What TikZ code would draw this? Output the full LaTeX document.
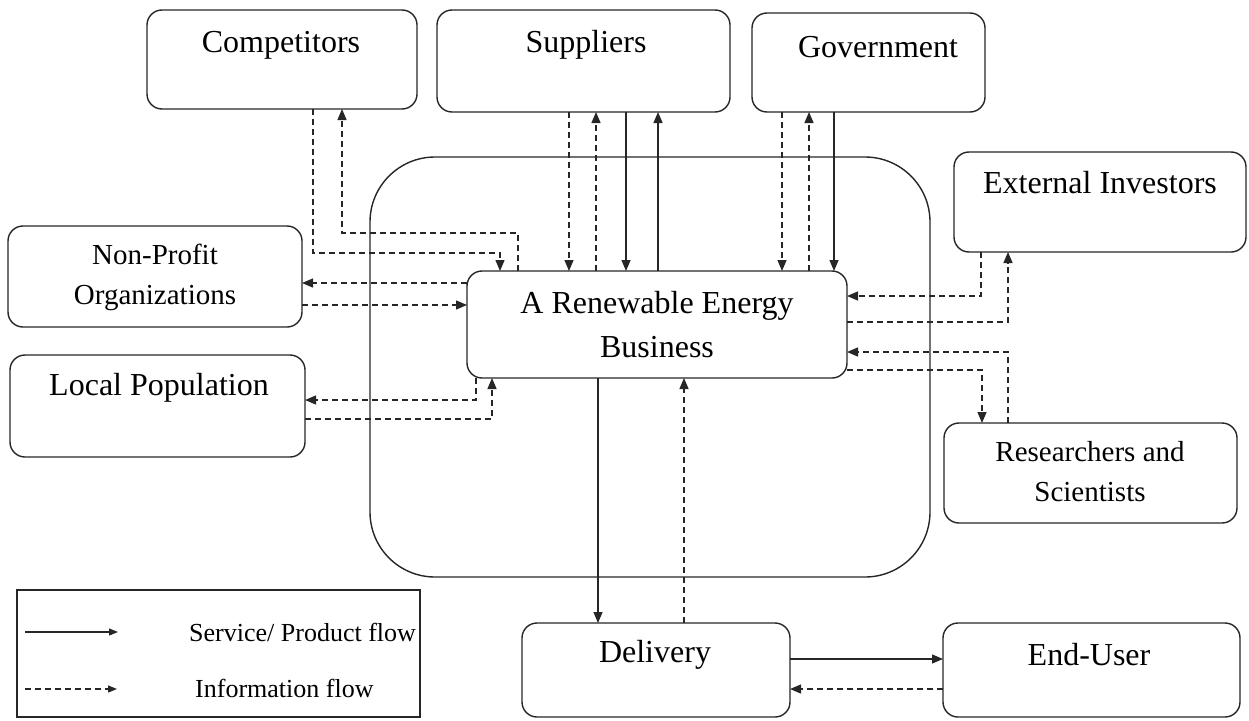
\documentclass[tikz,border=0pt]{standalone}
\usepackage{fontspec}
\setmainfont{Liberation Serif}
\usetikzlibrary{arrows.meta}
\begin{document}
\begin{tikzpicture}[x=1pt,y=-1pt,
  box/.style={draw=black!85, line width=1.4pt, rounded corners=15pt, inner sep=0pt, outer sep=0pt},
  bigtxt/.style={font=\fontsize{32}{44}\selectfont, align=center, inner sep=0pt},
  smalltxt/.style={font=\fontsize{29}{40}\selectfont, align=center, inner sep=0pt},
  legtxt/.style={font=\fontsize{26}{30}\selectfont, inner sep=0pt},
  flow/.style={line width=1.3pt, draw=black!85, -{Triangle[length=11pt,width=9pt]}},
  info/.style={flow, dash pattern=on 6pt off 4pt}]
\useasboundingbox (0,0) rectangle (1249,720);
% core boundary
\node[draw=black!85, line width=1.4pt, rounded corners=65pt, minimum width=560, minimum height=420, inner sep=0pt] (core) at (650,367) {};
% boxes
\node[box, minimum width=270, minimum height=99] (comp) at (282,59.5) {};
\node[bigtxt] (compt) at (281,45) {Competitors};
\node[box, minimum width=293, minimum height=102] (supp) at (583.5,61) {};
\node[bigtxt] (suppt) at (586,45) {Suppliers};
\node[box, minimum width=233, minimum height=99] (gov) at (868.5,62.5) {};
\node[bigtxt] (govt) at (878,47) {Government};
\node[box, minimum width=292, minimum height=100] (ext) at (1100,202) {};
\node[bigtxt] (extt) at (1100,183) {External Investors};
\node[box, minimum width=294, minimum height=101] (np) at (155,276.5) {};
\node[smalltxt] (npt) at (155,277) {Non-Profit\\Organizations};
\node[box, minimum width=295, minimum height=102] (lp) at (157.5,406) {};
\node[bigtxt] (lpt) at (159,388) {Local Population};
\node[box, minimum width=380, minimum height=107] (reb) at (657,324.5) {};
\node[bigtxt] (rebt) at (657,325) {A Renewable Energy\\Business};
\node[box, minimum width=293, minimum height=100] (res) at (1090.5,473) {};
\node[smalltxt] (rest) at (1090,472) {Researchers and\\Scientists};
\node[box, minimum width=268, minimum height=94] (del) at (656,670) {};
\node[bigtxt] (delt) at (655,655) {Delivery};
\node[box, minimum width=297, minimum height=94] (eu) at (1091.5,670) {};
\node[bigtxt] (eut) at (1089,655) {End-User};
% competitors
\draw[info] (313,0 |- comp.south) -- (313,253) -- (500,253) -- (500,0 |- reb.north);
\draw[info] (518,0 |- reb.north) -- (518,233) -- (342,233) -- (342,0 |- comp.south);
% suppliers
\draw[info] (569,0 |- supp.south) -- (569,0 |- reb.north);
\draw[info] (596,0 |- reb.north) -- (596,0 |- supp.south);
\draw[flow] (626,0 |- supp.south) -- (626,0 |- reb.north);
\draw[flow] (658,0 |- reb.north) -- (658,0 |- supp.south);
% government
\draw[info] (782,0 |- gov.south) -- (782,0 |- reb.north);
\draw[info] (809,0 |- reb.north) -- (809,0 |- gov.south);
\draw[flow] (834,0 |- gov.south) -- (834,0 |- reb.north);
% non-profit
\draw[info] (reb.west |- 0,283) -- (np.east |- 0,283);
\draw[info] (np.east |- 0,305) -- (reb.west |- 0,305);
% local population
\draw[info] (476,0 |- reb.south) -- (476,400) -- (lp.east |- 0,400);
\draw[info] (lp.east |- 0,419) -- (492,419) -- (492,0 |- reb.south);
% external investors
\draw[info] (981,0 |- ext.south) -- (981,296) -- (reb.east |- 0,296);
\draw[info] (reb.east |- 0,322) -- (1008,322) -- (1008,0 |- ext.south);
% researchers
\draw[info] (1008,0 |- res.north) -- (1008,352) -- (reb.east |- 0,352);
\draw[info] (reb.east |- 0,370) -- (982,370) -- (982,0 |- res.north);
% delivery
\draw[flow] (598,0 |- reb.south) -- (598,0 |- del.north);
\draw[info] (684,0 |- del.north) -- (684,0 |- reb.south);
\draw[flow] (del.east |- 0,659) -- (eu.west |- 0,659);
\draw[info] (eu.west |- 0,689) -- (del.east |- 0,689);
% legend
\node[draw=black!85, line width=1.4pt, minimum width=403, minimum height=127, inner sep=0pt] (leg) at (218.5,653.5) {};
\coordinate (la1) at (25,632);
\coordinate (lb1) at (118,632);
\coordinate (la2) at (25,689);
\coordinate (lb2) at (117,689);
\draw[flow, -{Triangle[length=9pt,width=7pt]}] (la1) -- (lb1);
\draw[info, -{Triangle[length=9pt,width=7pt]}] (la2) -- (lb2);
\node[legtxt, anchor=west] (lt1) at (189,632) {Service/ Product flow};
\node[legtxt, anchor=west] (lt2) at (195,688) {Information flow};
\end{tikzpicture}
\end{document}
